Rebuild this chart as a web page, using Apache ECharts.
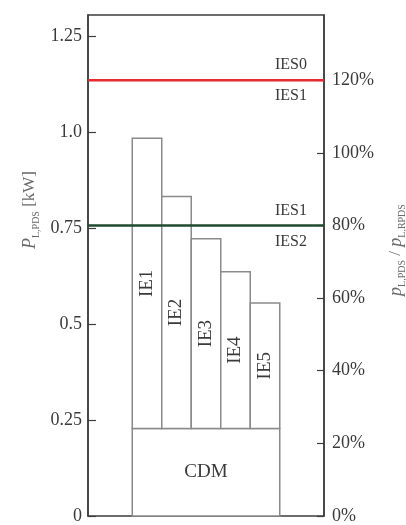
<!DOCTYPE html>
<html>
<head>
<meta charset="utf-8">
<script src="https://cdn.jsdelivr.net/npm/echarts@6/dist/echarts.min.js"></script>
<style>
  html, body { margin: 0; padding: 0; background: #fff; }
  #chart { width: 406px; height: 525px; }
</style>
</head>
<body>
<div id="chart"></div>
<script>
// bar data (kW)
const ieNames = ['IE1', 'IE2', 'IE3', 'IE4', 'IE5'];
const ieValues = [0.984, 0.832, 0.722, 0.636, 0.555];
const cdmName = 'CDM';
const cdmValue = 0.228;

// reference power that equals 100 % on the right axis
const refPower = 0.946;

// horizontal limits, in percent of refPower
const limitShares = [120, 80];
const limitAbove = ['IES0', 'IES1'];
const limitBelow = ['IES1', 'IES2'];
const limitColors = ['#e62a2e', '#1f4a2e'];

// tick labels
const leftTicks = [0, 0.25, 0.5, 0.75, 1.0, 1.25];
const leftTickLabels = ['0', '0.25', '0.5', '0.75', '1.0', '1.25'];
const rightTicks = [0, 20, 40, 60, 80, 100, 120];

const leftMax = 1.305;
const font = '"Liberation Serif", "DejaVu Serif", serif';

let myChart = echarts.init(document.getElementById('chart'));

// CDM box under all the bars
const renderCdm = (params, api) => {
  let p0 = api.coord([1.5, 0]);
  let p1 = api.coord([6.5, api.value(0)]);
  return {
    type: 'group',
    children: [
      {
        type: 'rect',
        shape: { x: p0[0], y: p1[1], width: p1[0] - p0[0], height: p0[1] - p1[1] },
        style: { fill: '#fff', stroke: '#8a8a8a', lineWidth: 1.5 }
      },
      {
        type: 'text',
        x: (p0[0] + p1[0]) / 2,
        y: (p0[1] + p1[1]) / 2,
        style: { text: cdmName, align: 'center', verticalAlign: 'middle', fontFamily: font, fontSize: 19, fill: '#3a3a3a' }
      }
    ]
  }
}

// IE bars stacked on the CDM box
const renderIe = (params, api) => {
  let i = api.value(0);
  let p0 = api.coord([1.5 + i, cdmValue]);
  let p1 = api.coord([2.5 + i, api.value(1)]);
  return {
    type: 'group',
    children: [
      {
        type: 'rect',
        shape: { x: p0[0], y: p1[1], width: p1[0] - p0[0], height: p0[1] - p1[1] },
        style: { fill: '#fff', stroke: '#8a8a8a', lineWidth: 1.5 }
      },
      {
        type: 'text',
        x: (p0[0] + p1[0]) / 2,
        y: (p0[1] + p1[1]) / 2,
        rotation: Math.PI / 2,
        style: { text: ieNames[i], x: 0, y: 0, align: 'center', verticalAlign: 'middle', fontFamily: font, fontSize: 19, fill: '#3a3a3a' }
      }
    ]
  }
}

// limit lines with a label above and below
const renderLimit = (params, api) => {
  let i = params.dataIndex;
  let y = api.value(0) / 100 * refPower;
  let a = api.coord([0, y]);
  let b = api.coord([8, y]);
  let tx = b[0] - 33;
  return {
    type: 'group',
    children: [
      {
        type: 'line',
        shape: { x1: a[0], y1: a[1], x2: b[0], y2: b[1] },
        style: { stroke: limitColors[i], lineWidth: 2.5 }
      },
      {
        type: 'text', x: tx, y: a[1] - 15,
        style: { text: limitAbove[i], align: 'center', verticalAlign: 'middle', fontFamily: font, fontSize: 16, fill: '#3a3a3a' }
      },
      {
        type: 'text', x: tx, y: a[1] + 16,
        style: { text: limitBelow[i], align: 'center', verticalAlign: 'middle', fontFamily: font, fontSize: 16, fill: '#3a3a3a' }
      }
    ]
  }
}

const titleRich = {
  i: { fontFamily: font, fontStyle: 'italic', fontSize: 18, fill: '#6a6a6a', verticalAlign: 'middle', lineHeight: 22 },
  s: { fontFamily: font, fontSize: 10, fill: '#6a6a6a', verticalAlign: 'bottom', lineHeight: 10 },
  n: { fontFamily: font, fontSize: 17, fill: '#6a6a6a', verticalAlign: 'middle', lineHeight: 22 }
}

let option = {
  animation: false,
  grid: {
    left: 88, right: 82, top: 15, bottom: 8,
    show: true, borderColor: '#3c3c3c', borderWidth: 1.5
  },
  xAxis: { type: 'value', min: 0, max: 8, show: false },
  yAxis: [
    {
      type: 'value', min: 0, max: leftMax, interval: 0.25, position: 'left',
      splitLine: { show: false },
      axisLine: { show: true, lineStyle: { color: '#3c3c3c', width: 1.5 } },
      axisTick: { show: true, inside: true, length: 8, lineStyle: { color: '#3c3c3c', width: 1.2 } },
      axisLabel: {
        showMaxLabel: false, margin: 6,
        fontFamily: font, fontSize: 18, color: '#3a3a3a',
        formatter: v => {
          let k = leftTicks.findIndex(t => Math.abs(t - v) < 1e-6);
          return k >= 0 ? leftTickLabels[k] : '';
        }
      }
    },
    {
      type: 'value', min: 0, max: leftMax / refPower * 100, interval: 20, position: 'right',
      splitLine: { show: false },
      axisLine: { show: true, lineStyle: { color: '#3c3c3c', width: 1.5 } },
      axisTick: { show: true, inside: true, length: 7, lineStyle: { color: '#3c3c3c', width: 1.2 } },
      axisLabel: {
        showMaxLabel: false, margin: 8,
        fontFamily: font, fontSize: 18, color: '#3a3a3a',
        formatter: v => rightTicks.some(t => Math.abs(t - v) < 1e-6) ? Math.round(v) + '%' : ''
      }
    }
  ],
  graphic: [
    {
      type: 'text', x: 30, y: 210, rotation: Math.PI / 2,
      style: { text: '{i|P}{s|L,PDS}{n| [kW]}', x: 0, y: 0, align: 'center', verticalAlign: 'middle', rich: titleRich }
    },
    {
      type: 'text', x: 396, y: 250, rotation: Math.PI / 2,
      style: { text: '{i|p}{s|L,PDS}{n| / }{i|p}{s|L,RPDS}', x: 0, y: 0, align: 'center', verticalAlign: 'middle', rich: titleRich }
    }
  ],
  series: [
    {
      name: cdmName, type: 'custom', renderItem: renderCdm, z: 2,
      data: [[cdmValue]]
    },
    {
      name: 'IE', type: 'custom', renderItem: renderIe, z: 3,
      data: ieValues.map((v, i) => [i, v])
    },
    {
      name: 'limits', type: 'custom', renderItem: renderLimit, z: 4,
      data: limitShares.map(v => [v])
    }
  ]
};

myChart.setOption(option);
</script>
</body>
</html>
